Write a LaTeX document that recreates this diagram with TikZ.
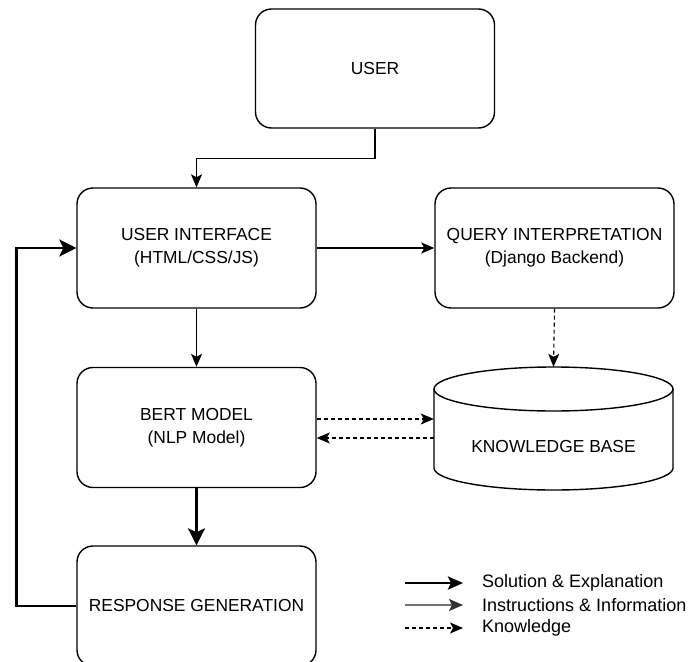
\documentclass[tikz,border=0pt]{standalone}
\usepackage{fontspec}
\setmainfont{Liberation Sans}
\usetikzlibrary{arrows.meta,calc}
\begin{document}
\begin{tikzpicture}[x=1pt,y=-1pt,
  font=\fontsize{17.4}{23}\selectfont,
  box/.style={draw,line width=1.4pt,rounded corners=16pt,minimum width=239pt,minimum height=120pt,align=center,inner sep=0pt},
  norm/.style={line width=1.4pt,-{Stealth[length=13pt,width=11pt,inset=3pt]}},
  thickarr/.style={line width=2.8pt,-{Stealth[length=17pt,width=17pt,inset=4pt]}},
  know/.style={line width=1.1pt,dash pattern=on 4pt off 3pt,-{Stealth[length=13pt,width=11pt,inset=3pt]}},
  gray arr/.style={line width=2.2pt,draw=black!55,-{Stealth[length=14pt,width=12pt,inset=3pt,color=black!80]}},
  legtext/.style={anchor=west,inner sep=0pt,font=\fontsize{18}{22.5}\selectfont}
]
\useasboundingbox (0,0) rectangle (690,661);
\clip (0,0) rectangle (690,661);
\fill[white] (0,0) rectangle (690,661);

\node[box,minimum height=119pt] (user) at (375,68.5) {USER};
\node[box] (ui) at (196.5,248) {USER INTERFACE\\(HTML/CSS/JS)};
\node[box] (qi) at (554.5,248) {QUERY INTERPRETATION\\(Django Backend)};
\node[box] (bert) at (196.5,427.5) {BERT MODEL\\(NLP Model)};
\node[box] (rg) at (196.5,606) {RESPONSE GENERATION};

% knowledge base cylinder
\node[minimum width=239pt,minimum height=123pt,inner sep=0pt] (kb) at (553.5,428.5) {};
\draw[line width=1.4pt,fill=white] (434,389) -- (434,468) arc[start angle=180,end angle=360,x radius=119.5pt,y radius=22pt] -- (673,389);
\draw[line width=1.4pt,fill=white] (553.5,389) ellipse[x radius=119.5pt,y radius=22pt];
\node at (553.5,447) {KNOWLEDGE BASE};

% connectors
\draw[norm] (user.south) -- ++(0,30) -| (ui.north);
\draw[norm] (ui.east) -- (qi.west);
\draw[norm] (ui.south) -- (bert.north);
\draw[thickarr] (bert.south) -- (rg.north);
\draw[thickarr] (rg.west) -- ++(-60,0) |- (ui.west);
\draw[know] (qi.south) -- (kb.north);
\draw[know] ([yshift=8.5pt]bert.east) -- ([yshift=8.5pt]bert.east -| kb.west);
\draw[know] ([yshift=-10.5pt]bert.east -| kb.west) -- ([yshift=-10.5pt]bert.east);

% legend
\coordinate (l1a) at (405,583); \coordinate (l1b) at (463,583);
\coordinate (l2a) at (405,605); \coordinate (l2b) at (463,605);
\coordinate (l3a) at (405,628); \coordinate (l3b) at (463,628);
\draw[line width=2.6pt,-{Stealth[length=15pt,width=13pt,inset=3pt]}] (l1a) -- (l1b);
\draw[gray arr] (l2a) -- (l2b);
\draw[know] (l3a) -- (l3b);
\node[legtext] (t1) at (482,583) {Solution \& Explanation};
\node[legtext] (t2) at (482,605) {Instructions \& Information};
\node[legtext] (t3) at (482,628) {Knowledge};
\end{tikzpicture}
\end{document}
